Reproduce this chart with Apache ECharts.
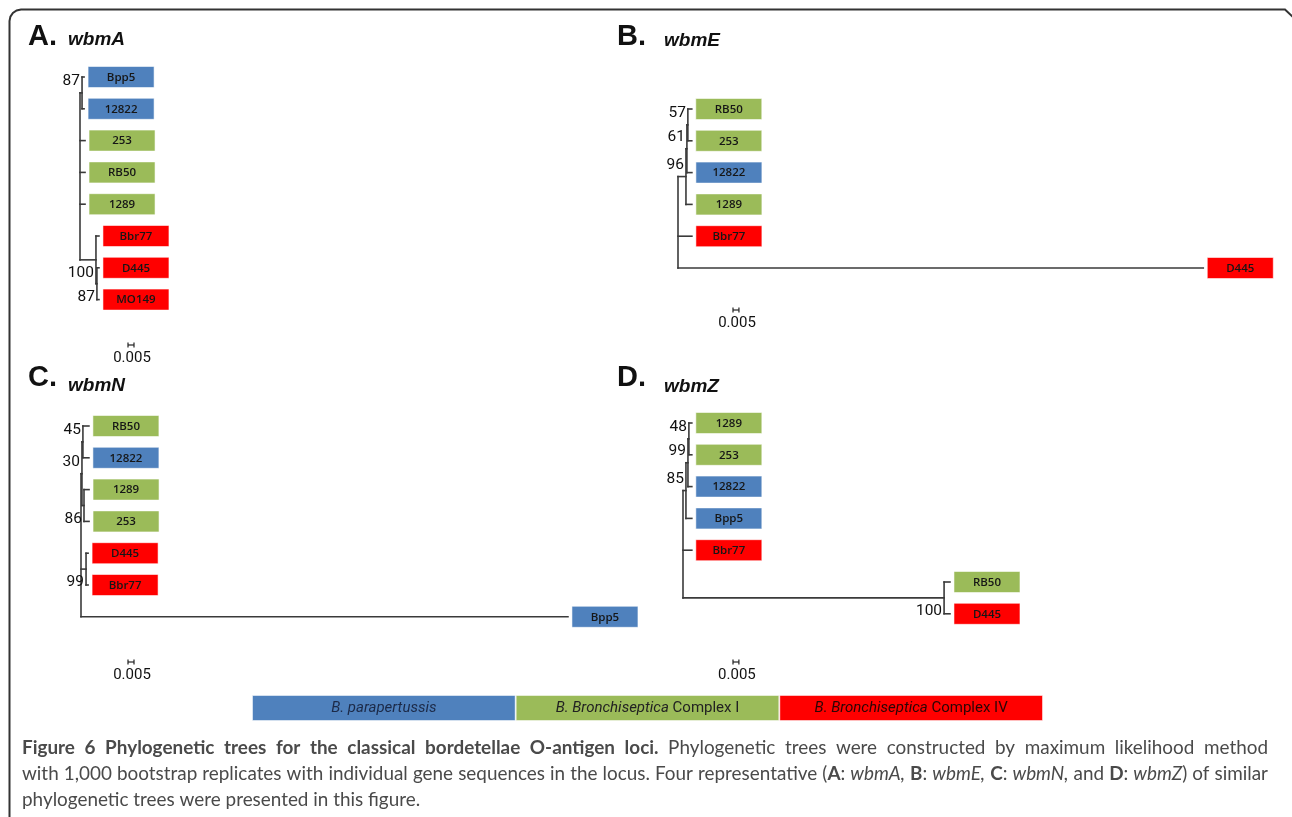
<!DOCTYPE html>
<html><head><meta charset="utf-8">
<script src="https://cdn.jsdelivr.net/npm/echarts@6/dist/echarts.min.js"></script>
<style>html,body{margin:0;padding:0;background:#fff;}#c{width:1292px;height:817px;}</style>
</head><body><div id="c"></div>
<script>
// ================= DATA =================
const panelLetters = ['A.', 'B.', 'C.', 'D.'];
const panelGenes = ['wbmA', 'wbmE', 'wbmN', 'wbmZ'];
// Trees (Newick; branch lengths in substitutions/site; internal labels = bootstrap)
const treeA = '((Bpp5:0.0017,12822:0.0017)87:0.0017,253:0.0042,RB50:0.0042,1289:0.0042,(Bbr77:0.0025,(D445:0.0017,MO149:0.0017)87:0.0008)100:0.0133);';
const treeB = '((((RB50:0.0033,253:0.0033)57:0.0008,12822:0.0042)61:0.0008,1289:0.005)96:0.0067,Bbr77:0.0117,D445:0.442);';
const treeC = '(((RB50:0.005,12822:0.005)45:0.0008,(1289:0.0042,253:0.0042)86:0.0017)30:0.0008,(D445:0.0017,Bbr77:0.0017)99:0.0042,Bpp5:0.4058);';
const treeD = '((((1289:0.0025,253:0.0025)48:0.0008,12822:0.0033)99:0.0017,Bpp5:0.005)85:0.0025,Bbr77:0.0075,(RB50:0.005,D445:0.005)100:0.2215);';
const strains = ['Bpp5', '12822', '253', 'RB50', '1289', 'Bbr77', 'D445', 'MO149'];
const strainGroup = [0, 0, 1, 1, 1, 2, 2, 2];
const groupNames = ['B. parapertussis', 'B. Bronchiseptica Complex I', 'B. Bronchiseptica Complex IV'];
const legendShare = [1, 1, 1];
const scaleBarLength = 0.005;
const scaleBarLabel = '0.005';
const captionBold = 'Figure 6 Phylogenetic trees for the classical bordetellae O-antigen loci.';

// ================= STYLE / LAYOUT =================
const groupColors = ['#4F81BD', '#9BBB59', '#FF0000'];
const legendTextColors = ['#1c2a48', '#222222', '#2a0505'];
const PX_PER_UNIT = 1200;      // 0.005 ~ 6 px
const ROW_PX = 31.8;
const GRID_W = 620;
const panelLayout = [
  { rootX: 80,  row0: 77,  barX: 128, barY: 345, titleX: 28,  titleY: 38,  geneX: 68,  geneY: 41 },
  { rootX: 678, row0: 109, barX: 733, barY: 310, titleX: 617, titleY: 38,  geneX: 664, geneY: 42 },
  { rootX: 81,  row0: 426, barX: 128, barY: 662, titleX: 28,  titleY: 379, geneX: 68,  geneY: 387 },
  { rootX: 683, row0: 423, barX: 733, barY: 662, titleX: 617, titleY: 379, geneX: 664, geneY: 388 }
];
const NARROW = "'Liberation Sans Narrow', 'Roboto', 'Liberation Sans', sans-serif";
const LINE_COLOR = '#3a3a3a';

// ================= TREE PARSING / LAYOUT =================
function parseNewick(s) {
  let i = 0;
  function node() {
    const n = { children: [], name: '', len: 0, support: null };
    if (s[i] === '(') {
      i++;
      n.children.push(node());
      while (s[i] === ',') { i++; n.children.push(node()); }
      i++;
    }
    let lab = '';
    while (i < s.length && !':,();'.includes(s[i])) lab += s[i++];
    if (n.children.length) { if (lab) n.support = lab; } else n.name = lab;
    if (s[i] === ':') {
      i++; let num = '';
      while (i < s.length && !',();'.includes(s[i])) num += s[i++];
      n.len = parseFloat(num);
    }
    return n;
  }
  return node();
}
function layoutTree(str) {
  const root = parseNewick(str);
  const segs = [], tips = [], sup = [];
  let row = 0;
  (function place(n, px) {
    n.x = px + n.len;
    if (!n.children.length) { n.y = row++; }
    else {
      n.children.forEach(c => place(c, n.x));
      n.y = (n.children[0].y + n.children[n.children.length - 1].y) / 2;
    }
  })(root, 0);
  root.x = 0;
  (function walk(n, parent, idx) {
    if (parent) segs.push([parent.x, n.y, n.x, n.y]);
    if (n.children.length) {
      segs.push([n.x, n.children[0].y, n.x, n.children[n.children.length - 1].y]);
      if (n.support !== null) sup.push({ x: n.x, y: n.y, text: n.support, above: idx === 0 });
      n.children.forEach((c, k) => walk(c, n, k));
    } else {
      tips.push({ x: n.x, y: n.y, name: n.name, group: strainGroup[strains.indexOf(n.name)] });
    }
  })(root, null, -1);
  return { segs, tips, sup, nTips: row };
}

const trees = [treeA, treeB, treeC, treeD].map(layoutTree);

// ================= OPTION =================
const grids = [], xAxes = [], yAxes = [], series = [];
trees.forEach((t, p) => {
  const L = panelLayout[p];
  grids.push({ left: L.rootX, top: L.row0 - ROW_PX / 2, width: GRID_W, height: ROW_PX * t.nTips });
  xAxes.push({ type: 'value', gridIndex: p, min: 0, max: GRID_W / PX_PER_UNIT, show: false });
  yAxes.push({ type: 'value', gridIndex: p, min: -0.5, max: t.nTips - 0.5, inverse: true, show: false });
  series.push({
    type: 'custom', xAxisIndex: p, yAxisIndex: p, silent: true,
    data: t.segs, encode: { x: [0, 2], y: [1, 3] },
    renderItem: (params, api) => {
      const a = api.coord([api.value(0), api.value(1)]);
      const b = api.coord([api.value(2), api.value(3)]);
      return { type: 'line', shape: { x1: a[0], y1: a[1], x2: b[0], y2: b[1] },
        style: { stroke: LINE_COLOR, lineWidth: 1.6, lineCap: 'square' } };
    }
  });
  series.push({
    type: 'custom', xAxisIndex: p, yAxisIndex: p, silent: true,
    data: t.tips.map(d => [d.x, d.y]),
    renderItem: (params, api) => {
      const d = t.tips[params.dataIndex];
      const c = api.coord([api.value(0), api.value(1)]);
      return { type: 'group', children: [
        { type: 'rect', shape: { x: c[0] + 4, y: c[1] - 10.5, width: 66, height: 21 },
          style: { fill: groupColors[d.group], stroke: 'rgba(255,255,255,0.55)', lineWidth: 1 } },
        { type: 'text', style: { text: d.name, x: c[0] + 37, y: c[1] + 0.5, align: 'center', verticalAlign: 'middle',
          fontSize: 11.5, fontFamily: "'Open Sans', sans-serif", fontWeight: 600, fill: '#161616' } }
      ] };
    }
  });
  series.push({
    type: 'custom', xAxisIndex: p, yAxisIndex: p, silent: true,
    data: t.sup.map(d => [d.x, d.y]),
    renderItem: (params, api) => {
      const d = t.sup[params.dataIndex];
      const c = api.coord([api.value(0), api.value(1)]);
      return { type: 'text', style: { text: d.text, x: c[0] - 2, y: c[1] + (d.above ? -11.5 : 13.5),
        align: 'right', verticalAlign: 'middle', fontSize: 15.5, fontFamily: NARROW, fill: '#111' } };
    }
  });
  series.push({
    type: 'custom', xAxisIndex: p, yAxisIndex: p, silent: true,
    data: [[0, 0]],
    renderItem: (params, api) => {
      const len = api.size([scaleBarLength, 0])[0];
      const x0 = L.barX, y0 = L.barY;
      return { type: 'group', children: [
        { type: 'line', shape: { x1: x0, y1: y0, x2: x0 + len, y2: y0 }, style: { stroke: '#222', lineWidth: 1.2 } },
        { type: 'line', shape: { x1: x0, y1: y0 - 2.5, x2: x0, y2: y0 + 2.5 }, style: { stroke: '#222', lineWidth: 1.2 } },
        { type: 'line', shape: { x1: x0 + len, y1: y0 - 2.5, x2: x0 + len, y2: y0 + 2.5 }, style: { stroke: '#222', lineWidth: 1.2 } },
        { type: 'text', style: { text: scaleBarLabel, x: x0 + len / 2 + 1, y: y0 + 13, align: 'center', verticalAlign: 'middle',
          fontSize: 15, fontFamily: NARROW, fill: '#111' } }
      ] };
    }
  });
});

grids.push({ left: 252, top: 695, width: 791, height: 26 });
xAxes.push({ type: 'value', gridIndex: 4, min: 0, max: legendShare.reduce((a, b) => a + b, 0), show: false });
yAxes.push({ type: 'category', gridIndex: 4, data: [''], show: false });
groupNames.forEach((g, k) => {
  const w = g.split(' ');
  const ital = w.slice(0, 2).join(' '), rest = w.slice(2).join(' ');
  series.push({
    type: 'bar', xAxisIndex: 4, yAxisIndex: 4, stack: 'legend', barWidth: '100%', silent: true,
    data: [legendShare[k]],
    itemStyle: { color: groupColors[k], borderColor: 'rgba(255,255,255,0.5)', borderWidth: 1 },
    label: {
      show: true, position: 'inside', color: legendTextColors[k], fontSize: 15, fontFamily: NARROW,
      formatter: '{i|' + ital + '}' + (rest ? ' ' + rest : ''),
      rich: { i: { fontStyle: 'italic', fontSize: 15, fontFamily: NARROW, color: legendTextColors[k] } }
    }
  });
});

// ---- caption (font size fitted, lines justified to the text block width) ----
const ctx = document.createElement('canvas').getContext('2d');
const CAP_FAMILY = "Lato, 'Open Sans', sans-serif";
const CAP_W = 1246;
const STY = { b: 'bold ', i: 'italic ', n: '' };
const cap1rest = ' Phylogenetic trees were constructed by maximum likelihood method';
const capSegs = [
  [['b', captionBold], ['n', cap1rest]],
  [['n', 'with 1,000 bootstrap replicates with individual gene sequences in the locus. Four representative ('],
   ['b', 'A'], ['n', ': '], ['i', panelGenes[0] + ','], ['n', ' '], ['b', 'B'], ['n', ': '], ['i', panelGenes[1] + ','], ['n', ' '],
   ['b', 'C'], ['n', ': '], ['i', panelGenes[2] + ','], ['n', ' and '], ['b', 'D'], ['n', ': '], ['i', panelGenes[3]], ['n', ') of similar']],
  [['n', 'phylogenetic trees were presented in this figure.']]
];
function mw(k, t, size) { ctx.font = STY[k] + size + 'px ' + CAP_FAMILY; return ctx.measureText(t).width; }
function lineW(segs, size) { return segs.reduce((s, [k, t]) => s + mw(k, t, size), 0); }
const capSize = Math.floor(Math.min(17 * CAP_W / lineW(capSegs[0], 17), 17 * CAP_W / lineW(capSegs[1], 17)) * 10) / 10;
const capRich = {
  b: { fontWeight: 'bold', fontSize: capSize, fontFamily: CAP_FAMILY, color: '#111' },
  i: { fontStyle: 'italic', fontSize: capSize, fontFamily: CAP_FAMILY, color: '#4a4a4a' },
  n: { fontSize: capSize, fontFamily: CAP_FAMILY, color: '#4a4a4a' }
};
function buildLine(segs, justify) {
  // split into word tokens and space tokens
  const toks = [];
  segs.forEach(([k, t]) => {
    t.split(/( )/).forEach(p => { if (p === '') return; toks.push({ k: p === ' ' ? 'sp' : k, t: p, base: k }); });
  });
  const spaceW = mw('n', ' ', capSize);
  const nSp = toks.filter(x => x.k === 'sp').length;
  const natural = toks.reduce((s, x) => s + (x.k === 'sp' ? spaceW : mw(x.k, x.t, capSize)), 0);
  const gap = justify && nSp ? spaceW + (CAP_W - natural) / nSp : spaceW;
  capRich.sp = { width: gap, fontSize: capSize, fontFamily: CAP_FAMILY, color: '#4a4a4a' };
  return toks.map(x => '{' + x.k + '|' + x.t + '}').join('');
}
const capRichPerLine = [];
const capLines = capSegs.map((segs, k) => {
  const s = buildLine(segs, k < capSegs.length - 1);
  capRichPerLine.push(Object.assign({}, capRich));
  return s;
});

const graphics = [
  { type: 'polyline', shape: { points: [[9.5, 830], [9.5, 21], [10.4, 16.6], [12.9, 12.9], [16.6, 10.4], [21, 9.5], [1285, 9.5], [1293, 17]] },
    style: { stroke: '#333', lineWidth: 2, fill: null } }
];
panelLayout.forEach((L, p) => {
  graphics.push({ type: 'text', left: L.titleX, top: L.titleY - 16,
    style: { text: panelLetters[p], fontSize: 29, fontWeight: 'bold', fontFamily: "'Liberation Sans', Arial, sans-serif", fill: '#111' } });
  graphics.push({ type: 'text', left: L.geneX, top: L.geneY - 11,
    style: { text: panelGenes[p], fontSize: 19, fontWeight: 'bold', fontStyle: 'italic', fontFamily: "'Liberation Sans', Arial, sans-serif", fill: '#111' } });
});
capLines.forEach((t, k) => {
  graphics.push({ type: 'text', left: 22, top: 738 + k * 26,
    style: { text: t, rich: capRichPerLine[k], fontSize: capSize, fontFamily: CAP_FAMILY, fill: '#4a4a4a' } });
});

const chart = echarts.init(document.getElementById('c'), null, { renderer: 'canvas' });
chart.setOption({
  animation: false,
  backgroundColor: '#fff',
  grid: grids, xAxis: xAxes, yAxis: yAxes, series: series, graphic: graphics
});
</script></body></html>
